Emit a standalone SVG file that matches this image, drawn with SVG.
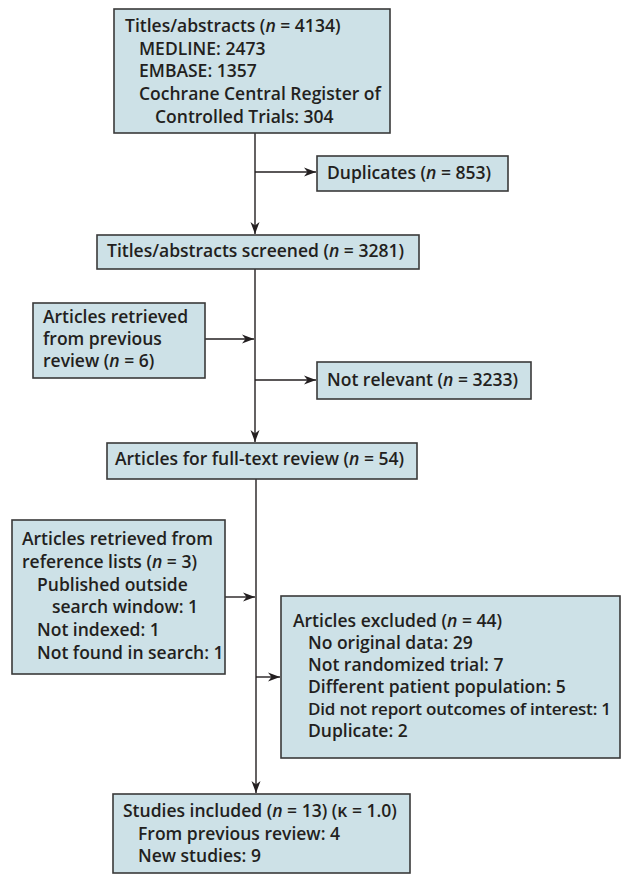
<svg xmlns="http://www.w3.org/2000/svg" width="624" height="876" viewBox="0 0 624 876">
<style>
.box{fill:#cde1e7;stroke:#3a3a3a;stroke-width:1.6}
.t{font-family:"Open Sans","Liberation Sans",sans-serif;font-weight:600;font-size:17.5px;fill:#231f20}
.c{fill:none;stroke:#231f20;stroke-width:1.4}
</style>
<defs>
<marker id="ah" markerUnits="userSpaceOnUse" markerWidth="14" markerHeight="10" refX="12" refY="5" orient="auto">
<path d="M0,0.5 L12,5 L0,9.5 L3.5,5 Z" fill="#231f20"/>
</marker>
</defs>
<rect width="624" height="876" fill="#ffffff"/>
<g id="connectors">
<path class="c" d="M255,133 V234" marker-end="url(#ah)"/>
<path class="c" d="M255,172 H316" marker-end="url(#ah)"/>
<path class="c" d="M255,269 V442" marker-end="url(#ah)"/>
<path class="c" d="M205,339 H254" marker-end="url(#ah)"/>
<path class="c" d="M255,380 H316" marker-end="url(#ah)"/>
<path class="c" d="M256,479 V793" marker-end="url(#ah)"/>
<path class="c" d="M225,597 H255" marker-end="url(#ah)"/>
<path class="c" d="M256,677 H280" marker-end="url(#ah)"/>
</g>
<g id="n-titles">
<rect class="box" x="114" y="9" width="276" height="124"/>
<text class="t" x="125" y="32">Titles/abstracts (<tspan font-style="italic">n</tspan> = 4134)</text>
<text class="t" x="139" y="55">MEDLINE: 2473</text>
<text class="t" x="139" y="77">EMBASE: 1357</text>
<text class="t" x="139" y="100">Cochrane Central Register of</text>
<text class="t" x="155" y="123">Controlled Trials: 304</text>
</g>
<g id="n-duplicates">
<rect class="box" x="317" y="156" width="191" height="35"/>
<text class="t" x="327" y="179">Duplicates (<tspan font-style="italic">n</tspan> = 853)</text>
</g>
<g id="n-screened">
<rect class="box" x="97" y="235" width="322" height="34"/>
<text class="t" x="107" y="257">Titles/abstracts screened (<tspan font-style="italic">n</tspan> = 3281)</text>
</g>
<g id="n-previous">
<rect class="box" x="33" y="303" width="172" height="75"/>
<text class="t" x="43" y="323">Articles retrieved</text>
<text class="t" x="43" y="345">from previous</text>
<text class="t" x="43" y="367">review (<tspan font-style="italic">n</tspan> = 6)</text>
</g>
<g id="n-notrelevant">
<rect class="box" x="317" y="362" width="214" height="37"/>
<text class="t" x="327" y="386">Not relevant (<tspan font-style="italic">n</tspan> = 3233)</text>
</g>
<g id="n-fulltext">
<rect class="box" x="107" y="443" width="310" height="36"/>
<text class="t" x="115" y="465">Articles for full-text review (<tspan font-style="italic">n</tspan> = 54)</text>
</g>
<g id="n-reflists">
<rect class="box" x="12" y="520" width="213" height="154"/>
<text class="t" x="22" y="545">Articles retrieved from</text>
<text class="t" x="22" y="568">reference lists (<tspan font-style="italic">n</tspan> = 3)</text>
<text class="t" x="37" y="591">Published outside</text>
<text class="t" x="52" y="613">search window: 1</text>
<text class="t" x="37" y="636">Not indexed: 1</text>
<text class="t" x="37" y="659">Not found in search: 1</text>
</g>
<g id="n-excluded">
<rect class="box" x="281" y="596" width="339" height="162"/>
<text class="t" x="293" y="627">Articles excluded (<tspan font-style="italic">n</tspan> = 44)</text>
<text class="t" x="308" y="649">No original data: 29</text>
<text class="t" x="308" y="671">Not randomized trial: 7</text>
<text class="t" x="308" y="693">Different patient population: 5</text>
<text class="t" x="308" y="715" style="font-size:17px;letter-spacing:-0.2px">Did not report outcomes of interest: 1</text>
<text class="t" x="308" y="737">Duplicate: 2</text>
</g>
<g id="n-included">
<rect class="box" x="113" y="794" width="297" height="79"/>
<text class="t" x="123" y="817">Studies included (<tspan font-style="italic">n</tspan> = 13) (κ = 1.0)</text>
<text class="t" x="138" y="840">From previous review: 4</text>
<text class="t" x="138" y="862">New studies: 9</text>
</g>
</svg>
